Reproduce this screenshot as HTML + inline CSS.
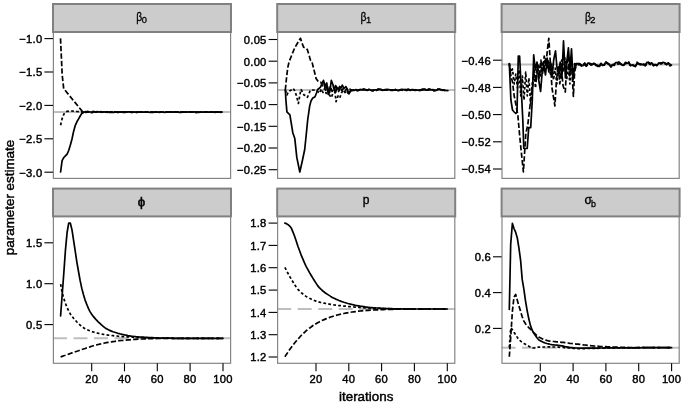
<!DOCTYPE html>
<html lang="en">
<head>
<meta charset="utf-8">
<title>parameter estimates by iteration</title>
<style>
html,body{margin:0;padding:0;background:#fff}
body{width:685px;height:404px;overflow:hidden}
svg{display:block;font-family:"Liberation Sans",sans-serif}
.s{fill:none;stroke:#000;stroke-width:1.7;stroke-linejoin:round;stroke-linecap:butt}
.c{stroke-linecap:round}
.d{stroke-dasharray:5.3 2.2}
.o{stroke-dasharray:2.8 2.2}
.r{fill:none;stroke:#bebebe;stroke-width:2}
.rd{stroke-dasharray:14 6.5}
.pb{fill:none;stroke:#858585;stroke-width:1.2}
.sb{fill:#cccccc;stroke:#808080;stroke-width:2}
.t{stroke:#000;stroke-width:1.1;fill:none}
.yl{font-size:11.2px;letter-spacing:.25px;text-anchor:end;fill:#000;stroke:#000;stroke-width:.42}
.xl{font-size:11.2px;letter-spacing:.25px;text-anchor:middle;fill:#000;stroke:#000;stroke-width:.42}
.al{font-size:13.4px;text-anchor:middle;fill:#000;stroke:#000;stroke-width:.45}
.st{fill:#000;stroke:#000}
</style>
</head>
<body>
<svg width="685" height="404" viewBox="0 0 685 404">
<g>
<path class="r" d="M53.0 112.1 L231.0 112.1"/>
<path class="s d" d="M60.5 38.4 L62.2 75.0 L63.7 88.6 L82.5 111.6 L84.1 112.0 L85.7 112.4 L87.4 111.4 L89.0 111.8 L90.7 111.7 L92.3 111.6 L93.9 111.7 L95.6 111.9 L97.2 112.0 L98.9 112.1 L100.5 112.0 L102.2 112.3 L103.8 111.8 L105.4 112.5 L107.1 111.7 L108.7 112.2 L110.4 112.0 L112.0 112.1 L113.6 111.8 L115.3 111.9 L116.9 112.3 L118.6 112.4 L120.2 112.0 L121.8 112.2 L123.5 112.3 L125.1 112.3 L126.8 111.9 L128.4 111.9 L130.0 112.0 L131.7 112.3 L133.3 111.9 L135.0 112.1 L136.6 112.3 L138.3 112.1 L139.9 112.2 L141.5 112.0 L143.2 112.2 L144.8 112.2 L146.5 111.9 L148.1 112.2 L149.7 112.3 L151.4 112.2 L153.0 112.0 L154.7 112.2 L156.3 111.9 L157.9 112.1 L159.6 112.3 L161.2 112.0 L162.9 112.0 L164.5 112.0 L166.2 111.9 L167.8 112.2 L169.4 112.0 L171.1 112.0 L172.7 112.1 L174.4 111.9 L176.0 112.1 L177.6 112.0 L179.3 112.1 L180.9 112.2 L182.6 111.9 L184.2 112.1 L185.8 112.2 L187.5 112.1 L189.1 111.9 L190.8 112.1 L192.4 112.2 L194.0 112.1 L195.7 112.3 L197.3 112.1 L199.0 112.3 L200.6 112.0 L202.3 112.0 L203.9 112.2 L205.5 112.1 L207.2 112.0 L208.8 112.3 L210.5 112.0 L212.1 112.2 L213.7 112.2 L215.4 112.3 L217.0 112.1 L218.7 112.2 L220.3 112.0 L221.9 112.0"/>
<path class="s c" d="M60.6 172.0 L62.1 160.6 L63.8 157.5 L65.4 155.9 L67.1 154.1 L68.7 150.5 L70.3 145.3 L72.0 139.0 L73.6 131.4 L75.3 125.3 L76.9 121.8 L78.6 118.9 L80.2 116.0 L81.8 113.4 L84.3 112.0 L85.9 111.5 L87.6 112.2 L89.2 112.0 L90.9 112.0 L92.5 111.9 L94.1 111.7 L95.8 112.2 L97.4 111.9 L99.1 111.8 L100.7 112.2 L102.4 112.1 L104.0 111.7 L105.6 112.1 L107.3 111.8 L108.9 112.3 L110.6 112.4 L112.2 112.1 L113.8 112.4 L115.5 111.8 L117.1 112.1 L118.8 111.8 L120.4 112.1 L122.0 111.9 L123.7 111.9 L125.3 112.1 L127.0 112.0 L128.6 111.9 L130.2 112.0 L131.9 112.0 L133.5 112.1 L135.2 112.0 L136.8 112.2 L138.5 112.1 L140.1 112.1 L141.7 112.1 L143.4 112.2 L145.0 112.1 L146.7 112.0 L148.3 112.2 L149.9 112.3 L151.6 112.1 L153.2 112.3 L154.9 112.0 L156.5 112.1 L158.1 112.1 L159.8 112.1 L161.4 112.2 L163.1 112.1 L164.7 112.3 L166.4 112.1 L168.0 111.9 L169.6 112.0 L171.3 112.2 L172.9 112.1 L174.6 111.9 L176.2 112.0 L177.8 111.9 L179.5 112.3 L181.1 112.3 L182.8 112.2 L184.4 112.1 L186.0 112.2 L187.7 112.0 L189.3 112.0 L191.0 112.1 L192.6 112.0 L194.2 111.9 L195.9 112.3 L197.5 112.1 L199.2 112.1 L200.8 112.0 L202.5 112.0 L204.1 112.1 L205.7 112.2 L207.4 112.2 L209.0 112.1 L210.7 111.9 L212.3 112.2 L213.9 112.0 L215.6 112.1 L217.2 111.9 L218.9 112.2 L220.5 112.1 L222.1 112.1"/>
<path class="s o" d="M60.6 125.2 L62.1 118.7 L63.8 114.3 L65.4 112.0 L67.1 111.4 L68.7 111.1 L70.3 111.0 L72.0 111.0 L73.6 111.2 L75.3 111.3 L76.9 111.5 L78.6 111.6 L80.2 111.8 L81.8 111.9 L84.3 112.2 L85.9 112.4 L87.6 111.8 L89.2 112.1 L90.9 112.6 L92.5 112.6 L94.1 111.7 L95.8 111.8 L97.4 111.6 L99.1 112.0 L100.7 111.6 L102.4 112.1 L104.0 112.2 L105.6 111.9 L107.3 112.3 L108.9 112.2 L110.6 111.7 L112.2 112.1 L113.8 111.9 L115.5 112.0 L117.1 112.0 L118.8 112.2 L120.4 112.1 L122.0 111.9 L123.7 112.1 L125.3 112.2 L127.0 112.0 L128.6 112.0 L130.2 112.1 L131.9 112.3 L133.5 112.3 L135.2 112.2 L136.8 112.3 L138.5 112.2 L140.1 112.1 L141.7 111.9 L143.4 112.2 L145.0 112.1 L146.7 112.0 L148.3 112.0 L149.9 112.1 L151.6 112.1 L153.2 112.0 L154.9 112.0 L156.5 112.1 L158.1 112.2 L159.8 112.1 L161.4 112.0 L163.1 112.0 L164.7 112.1 L166.4 112.0 L168.0 112.0 L169.6 112.1 L171.3 111.9 L172.9 112.1 L174.6 112.0 L176.2 112.2 L177.8 112.2 L179.5 112.2 L181.1 112.2 L182.8 112.0 L184.4 112.2 L186.0 112.0 L187.7 112.1 L189.3 112.0 L191.0 112.1 L192.6 111.9 L194.2 112.0 L195.9 112.3 L197.5 112.0 L199.2 112.2 L200.8 112.2 L202.5 112.2 L204.1 112.1 L205.7 112.1 L207.4 111.9 L209.0 111.9 L210.7 112.0 L212.3 112.0 L213.9 111.9 L215.6 112.0 L217.2 112.1 L218.9 112.0 L220.5 112.3 L222.1 112.2"/>
</g>
<rect class="pb" x="53.4" y="32.0" width="177.2" height="146.4"/>
<rect class="sb" x="53.0" y="4.0" width="178.0" height="28.0"/>
<text class="st" transform="translate(136.2 20.9) scale(0.86 1)" font-size="12.0" stroke-width="0.30">β</text>
<text class="st" transform="translate(141.8 22.8) scale(1.00 1)" font-size="9.3" stroke-width="0.30">0</text>
<path class="t" d="M44.4 38.6H53.0"/>
<text class="yl" x="42.4" y="42.9">−1.0</text>
<path class="t" d="M44.4 72.0H53.0"/>
<text class="yl" x="42.4" y="76.3">−1.5</text>
<path class="t" d="M44.4 105.4H53.0"/>
<text class="yl" x="42.4" y="109.7">−2.0</text>
<path class="t" d="M44.4 138.8H53.0"/>
<text class="yl" x="42.4" y="143.1">−2.5</text>
<path class="t" d="M44.4 172.2H53.0"/>
<text class="yl" x="42.4" y="176.5">−3.0</text>
<g>
<path class="r" d="M277.2 90.0 L455.2 90.0"/>
<path class="s d" d="M285.3 90.0 L286.5 78.0 L287.7 68.0 L289.0 62.0 L291.0 57.0 L293.0 52.0 L294.8 47.7 L297.0 44.0 L299.0 40.5 L300.5 38.3 L302.0 43.0 L303.6 47.2 L305.5 48.0 L307.3 49.5 L309.0 55.0 L310.4 60.0 L311.9 61.5 L313.0 66.0 L314.5 72.0 L316.1 78.5 L318.2 81.6 L320.8 82.2 L322.3 85.8 L323.9 83.0 L325.6 90.5 L327.2 85.0 L328.8 92.5 L330.5 86.0 L332.1 91.5 L333.7 87.0 L335.4 93.0 L337.0 88.0 L338.7 91.5 L340.3 87.5 L341.9 90.5 L343.6 88.0 L345.2 91.0 L346.9 88.5 L348.5 90.6 L350.1 89.2 L351.8 90.8 L353.4 90.2 L355.1 90.1 L356.7 90.5 L358.4 90.4 L360.0 89.4 L361.6 90.1 L363.3 89.1 L364.9 89.6 L366.6 90.3 L368.2 90.0 L369.9 89.6 L371.5 90.6 L373.1 90.8 L374.8 89.4 L376.4 90.2 L378.1 89.0 L379.7 89.4 L381.3 89.5 L383.0 90.4 L384.6 89.7 L386.3 89.9 L387.9 89.9 L389.5 90.6 L391.2 89.8 L392.8 90.1 L394.5 89.8 L396.1 89.6 L397.7 90.5 L399.4 90.0 L401.0 89.7 L402.7 90.3 L404.3 89.5 L406.0 89.9 L407.6 89.3 L409.2 90.0 L410.9 89.9 L412.5 89.8 L414.2 90.3 L415.8 89.9 L417.4 90.3 L419.1 90.3 L420.7 90.1 L422.4 89.1 L424.0 89.3 L425.6 90.3 L427.3 89.9 L428.9 89.2 L430.6 89.7 L432.2 89.8 L433.9 90.7 L435.5 90.2 L437.1 89.7 L438.8 89.2 L440.4 90.0 L442.1 89.9 L443.7 90.3 L445.3 90.3 L447.0 90.6"/>
<path class="s c" d="M285.3 90.0 L285.9 100.0 L286.9 111.9 L289.9 114.9 L292.8 132.7 L294.8 138.6 L296.8 157.4 L299.8 172.0 L302.3 161.0 L304.7 149.5 L306.2 135.0 L307.7 119.8 L309.7 105.9 L311.0 101.0 L312.5 98.3 L315.0 96.7 L316.5 93.0 L317.7 89.5 L320.3 87.4 L321.9 84.0 L323.5 80.4 L325.1 86.0 L326.8 83.0 L328.2 94.5 L329.8 92.0 L331.3 80.4 L332.9 84.5 L334.5 90.8 L335.5 85.6 L338.1 89.3 L339.7 86.5 L341.0 88.0 L342.3 85.1 L344.0 88.5 L345.9 86.6 L347.5 90.0 L349.0 93.9 L351.1 89.8 L352.7 90.2 L354.3 90.4 L356.0 89.5 L357.6 90.7 L359.3 90.2 L360.9 89.7 L362.5 89.9 L364.2 89.5 L365.8 89.7 L367.5 90.1 L369.1 89.4 L370.8 90.0 L372.4 90.3 L374.0 90.1 L375.7 89.9 L377.3 89.9 L379.0 89.3 L380.6 89.3 L382.2 90.0 L383.9 90.1 L385.5 89.8 L387.2 89.3 L388.8 89.5 L390.4 90.1 L392.1 90.0 L393.7 90.2 L395.4 89.4 L397.0 90.2 L398.6 90.7 L400.3 89.8 L401.9 89.3 L403.6 89.7 L405.2 89.6 L406.9 90.5 L408.5 89.2 L410.1 90.0 L411.8 89.5 L413.4 89.7 L415.1 90.5 L416.7 90.2 L418.3 90.2 L420.0 90.5 L421.6 90.2 L423.3 89.7 L424.9 89.0 L426.5 90.2 L428.2 90.2 L429.8 89.3 L431.5 89.9 L433.1 89.7 L434.8 90.6 L436.4 90.3 L438.0 89.2 L439.7 89.1 L441.3 89.7 L443.0 90.0 L444.6 90.4 L446.2 90.5 L447.9 90.6"/>
<path class="s o" d="M285.4 90.0 L287.0 95.0 L288.5 91.5 L290.5 90.5 L293.2 88.4 L294.8 91.0 L296.3 95.2 L298.4 103.5 L300.0 94.1 L301.0 89.5 L302.5 92.0 L304.1 95.2 L305.7 95.5 L307.3 97.3 L308.9 94.0 L310.4 90.0 L313.6 90.0 L316.6 90.5 L318.2 92.0 L319.7 93.1 L321.3 89.0 L323.0 92.5 L324.6 88.5 L326.2 93.5 L327.9 90.0 L329.5 95.0 L331.3 97.6 L333.0 93.0 L335.0 91.9 L336.0 101.7 L338.0 96.0 L339.7 98.1 L341.7 92.4 L343.4 90.0 L345.0 92.5 L346.7 90.5 L348.5 94.5 L350.2 90.5 L351.8 90.7 L353.4 90.0 L355.1 90.0 L356.7 90.0 L358.4 89.9 L360.0 89.7 L361.6 89.7 L363.3 89.4 L364.9 89.7 L366.6 90.5 L368.2 89.7 L369.9 90.0 L371.5 90.4 L373.1 90.5 L374.8 89.7 L376.4 90.5 L378.1 89.7 L379.7 89.4 L381.3 90.2 L383.0 90.3 L384.6 89.4 L386.3 89.7 L387.9 89.9 L389.5 90.5 L391.2 90.3 L392.8 90.5 L394.5 89.4 L396.1 90.2 L397.7 90.2 L399.4 89.8 L401.0 89.9 L402.7 90.3 L404.3 89.3 L406.0 90.4 L407.6 89.7 L409.2 90.1 L410.9 90.3 L412.5 89.5 L414.2 90.1 L415.8 89.7 L417.4 90.6 L419.1 90.4 L420.7 89.8 L422.4 89.8 L424.0 89.4 L425.6 90.2 L427.3 90.0 L428.9 89.1 L430.6 89.6 L432.2 89.9 L433.9 90.6 L435.5 90.2 L437.1 89.3 L438.8 89.4 L440.4 89.8 L442.1 90.4 L443.7 89.8 L445.3 90.2 L447.0 90.7"/>
</g>
<rect class="pb" x="277.6" y="32.0" width="177.2" height="146.4"/>
<rect class="sb" x="277.2" y="4.0" width="178.0" height="28.0"/>
<text class="st" transform="translate(360.5 20.9) scale(0.86 1)" font-size="12.0" stroke-width="0.30">β</text>
<text class="st" transform="translate(366.0 22.8) scale(1.00 1)" font-size="9.3" stroke-width="0.30">1</text>
<path class="t" d="M268.6 39.5H277.2"/>
<text class="yl" x="266.6" y="43.8">0.05</text>
<path class="t" d="M268.6 61.2H277.2"/>
<text class="yl" x="266.6" y="65.5">0.00</text>
<path class="t" d="M268.6 82.9H277.2"/>
<text class="yl" x="266.6" y="87.2">−0.05</text>
<path class="t" d="M268.6 104.6H277.2"/>
<text class="yl" x="266.6" y="108.9">−0.10</text>
<path class="t" d="M268.6 126.3H277.2"/>
<text class="yl" x="266.6" y="130.6">−0.15</text>
<path class="t" d="M268.6 148.0H277.2"/>
<text class="yl" x="266.6" y="152.3">−0.20</text>
<path class="t" d="M268.6 169.7H277.2"/>
<text class="yl" x="266.6" y="174.0">−0.25</text>
<g>
<path class="r" d="M501.6 64.6 L679.6 64.6"/>
<path class="s c" d="M509.3 63.5 L510.9 100.0 L512.5 110.0 L514.2 112.0 L515.8 113.5 L517.0 112.0 L518.3 56.0 L519.6 56.0 L521.8 100.0 L522.8 119.8 L523.8 148.5 L527.2 148.5 L528.7 127.7 L530.7 127.7 L532.3 100.0 L533.7 54.8 L535.3 70.0 L537.0 62.0 L538.7 80.0 L540.6 91.5 L542.2 72.0 L543.9 66.0 L545.5 75.0 L547.2 58.0 L548.8 72.0 L550.4 62.0 L552.1 77.0 L553.7 60.0 L555.5 50.8 L557.0 68.0 L558.6 74.0 L560.2 62.0 L561.9 78.0 L563.5 40.9 L565.4 78.0 L566.8 62.0 L568.4 47.8 L570.0 70.0 L571.5 48.8 L573.1 80.0 L574.7 66.0 L576.4 63.5 L578.0 63.6 L579.6 63.7 L581.3 65.1 L582.9 65.7 L584.6 63.1 L586.2 65.8 L587.8 63.1 L589.5 63.2 L591.1 65.1 L592.8 64.3 L594.4 63.4 L596.1 64.9 L597.7 66.4 L599.3 66.0 L601.0 63.3 L602.6 65.1 L604.3 64.5 L605.9 61.9 L607.5 63.4 L609.2 64.0 L610.8 66.3 L612.5 65.4 L614.1 64.3 L615.7 62.7 L617.4 62.7 L619.0 62.1 L620.7 63.8 L622.3 65.1 L623.9 64.9 L625.6 62.3 L627.2 63.2 L628.9 63.1 L630.5 65.8 L632.2 65.0 L633.8 65.4 L635.4 66.4 L637.1 63.7 L638.7 63.7 L640.4 63.8 L642.0 64.7 L643.6 64.1 L645.3 65.0 L646.9 62.4 L648.6 62.4 L650.2 63.7 L651.8 62.8 L653.5 65.8 L655.1 64.7 L656.8 65.3 L658.4 63.7 L660.0 62.9 L661.7 63.1 L663.3 62.3 L665.0 63.0 L666.6 64.7 L668.3 62.8 L669.9 64.1 L671.5 65.1"/>
<path class="s d" d="M509.3 63.5 L510.9 76.0 L512.5 82.0 L514.2 96.0 L515.8 104.0 L517.9 115.8 L519.6 135.0 L521.3 152.0 L523.4 172.0 L525.8 133.7 L527.8 124.8 L530.7 100.0 L532.7 85.8 L534.3 70.0 L536.0 82.0 L537.6 66.0 L539.2 78.0 L540.9 60.0 L542.5 74.0 L544.2 56.0 L545.8 66.0 L547.4 50.0 L548.8 38.3 L550.3 62.0 L552.0 88.0 L553.6 98.0 L554.9 106.0 L556.5 80.0 L558.2 66.0 L559.8 84.0 L561.5 70.0 L563.1 86.0 L565.3 92.0 L566.4 70.0 L568.0 56.0 L569.7 76.0 L571.3 60.0 L573.4 96.4 L574.6 72.0 L576.2 65.5 L577.9 64.9 L579.5 64.3 L581.2 66.0 L582.8 66.3 L584.5 64.3 L586.1 65.9 L587.7 64.4 L589.4 63.9 L591.0 64.7 L592.7 64.3 L594.3 62.4 L596.0 65.4 L597.6 65.1 L599.2 66.2 L600.9 63.8 L602.5 65.4 L604.2 65.1 L605.8 62.5 L607.4 63.1 L609.1 64.6 L610.7 66.8 L612.4 64.5 L614.0 64.5 L615.6 64.0 L617.3 62.7 L618.9 62.3 L620.6 63.8 L622.2 65.8 L623.8 65.1 L625.5 63.0 L627.1 64.2 L628.8 61.9 L630.4 65.9 L632.1 65.0 L633.7 65.4 L635.3 66.6 L637.0 62.2 L638.6 63.7 L640.3 64.8 L641.9 64.0 L643.5 64.7 L645.2 65.8 L646.8 64.1 L648.5 62.4 L650.1 64.6 L651.7 62.9 L653.4 65.3 L655.0 64.4 L656.7 65.5 L658.3 63.0 L659.9 63.2 L661.6 63.7 L663.2 62.4 L664.9 62.6 L666.5 64.0 L668.2 63.2 L669.8 65.9 L671.4 65.2"/>
<path class="s o" d="M509.3 63.5 L510.9 72.0 L512.5 69.0 L514.2 84.0 L515.8 74.0 L517.5 88.0 L519.1 70.0 L520.7 96.0 L522.4 76.0 L524.0 100.0 L525.7 72.0 L527.3 96.0 L528.9 78.0 L530.6 104.0 L532.2 84.0 L533.9 72.0 L535.5 88.0 L537.1 70.0 L538.8 64.0 L540.4 76.0 L542.1 62.0 L543.7 70.0 L545.3 58.0 L547.0 68.0 L548.6 60.0 L550.3 74.0 L551.9 64.0 L553.5 80.0 L555.2 68.0 L556.8 84.0 L558.5 66.0 L560.1 76.0 L561.7 60.0 L563.4 72.0 L565.0 58.0 L566.7 80.0 L568.3 66.0 L569.9 84.0 L571.6 64.0 L573.2 74.0 L574.9 62.0 L576.5 65.0 L578.1 65.2 L579.7 64.4 L581.4 64.8 L583.0 65.5 L584.7 63.2 L586.3 66.2 L587.9 64.0 L589.6 63.3 L591.2 64.0 L592.9 63.6 L594.5 64.2 L596.2 65.6 L597.8 66.5 L599.4 66.4 L601.1 64.8 L602.7 64.8 L604.4 65.2 L606.0 62.2 L607.6 63.3 L609.3 64.5 L610.9 67.1 L612.6 65.0 L614.2 65.5 L615.8 63.4 L617.5 63.8 L619.1 64.1 L620.8 63.1 L622.4 65.2 L624.0 65.5 L625.7 62.8 L627.3 63.5 L629.0 62.9 L630.6 66.1 L632.3 65.0 L633.9 65.9 L635.5 66.3 L637.2 63.1 L638.8 64.2 L640.5 64.5 L642.1 64.4 L643.7 64.5 L645.4 64.9 L647.0 62.8 L648.7 63.4 L650.3 64.1 L651.9 63.6 L653.6 65.0 L655.2 63.5 L656.9 65.4 L658.5 63.9 L660.1 63.9 L661.8 63.5 L663.4 62.7 L665.1 63.9 L666.7 64.4 L668.4 64.5 L670.0 65.9 L671.6 64.9"/>
</g>
<rect class="pb" x="502.0" y="32.0" width="177.2" height="146.4"/>
<rect class="sb" x="501.6" y="4.0" width="178.0" height="28.0"/>
<text class="st" transform="translate(584.9 20.9) scale(0.86 1)" font-size="12.0" stroke-width="0.30">β</text>
<text class="st" transform="translate(590.3 22.8) scale(1.00 1)" font-size="9.3" stroke-width="0.30">2</text>
<path class="t" d="M493.0 60.2H501.6"/>
<text class="yl" x="491.0" y="64.5">−0.46</text>
<path class="t" d="M493.0 87.4H501.6"/>
<text class="yl" x="491.0" y="91.7">−0.48</text>
<path class="t" d="M493.0 114.6H501.6"/>
<text class="yl" x="491.0" y="118.9">−0.50</text>
<path class="t" d="M493.0 141.8H501.6"/>
<text class="yl" x="491.0" y="146.1">−0.52</text>
<path class="t" d="M493.0 169.0H501.6"/>
<text class="yl" x="491.0" y="173.3">−0.54</text>
<g>
<path class="r rd" d="M53.0 338.3 L231.0 338.3"/>
<path class="s c" d="M60.6 315.9 L62.1 295.8 L63.8 273.2 L65.4 250.7 L67.1 232.5 L68.7 223.2 L70.3 223.0 L72.0 229.9 L73.6 240.4 L75.3 251.7 L76.9 262.3 L78.6 272.0 L80.2 280.9 L81.8 288.4 L83.5 294.7 L85.1 300.1 L86.8 304.5 L88.4 308.4 L90.0 311.6 L91.7 314.2 L93.3 316.4 L95.0 318.4 L96.6 320.2 L98.2 321.8 L99.9 323.4 L101.5 324.9 L103.2 326.3 L104.8 327.6 L106.4 328.7 L108.1 329.6 L109.7 330.4 L111.4 331.1 L113.0 331.8 L114.7 332.3 L116.3 332.8 L117.9 333.3 L119.6 333.7 L121.2 334.2 L122.9 334.5 L124.5 334.9 L126.1 335.2 L127.8 335.6 L129.4 335.8 L131.1 336.1 L132.7 336.3 L134.3 336.5 L136.0 336.7 L137.6 336.8 L139.3 337.0 L140.9 337.1 L142.6 337.2 L144.2 337.3 L145.8 337.4 L147.5 337.5 L149.1 337.6 L150.8 337.7 L152.4 337.7 L154.0 337.8 L155.7 337.9 L157.3 337.9 L159.0 338.0 L160.6 338.0 L162.2 338.1 L163.9 338.1 L165.5 338.1 L167.2 338.2 L168.8 338.2 L170.4 338.2 L172.1 338.2 L173.7 338.3 L175.4 338.3 L177.0 338.3 L178.7 338.3 L180.3 338.3 L181.9 338.3 L183.6 338.3 L185.2 338.3 L186.9 338.3 L188.5 338.3 L190.1 338.3 L191.8 338.3 L193.4 338.3 L195.1 338.3 L196.7 338.3 L198.3 338.3 L200.0 338.3 L201.6 338.3 L203.3 338.3 L204.9 338.3 L206.5 338.3 L208.2 338.3 L209.8 338.3 L211.5 338.3 L213.1 338.3 L214.8 338.3 L216.4 338.3 L218.0 338.3 L219.7 338.3 L221.3 338.3 L223.0 338.3"/>
<path class="s o" d="M60.6 284.1 L62.1 292.2 L63.8 298.4 L65.4 303.3 L67.1 307.5 L68.7 311.0 L70.3 313.9 L72.0 316.3 L73.6 318.3 L75.3 320.2 L76.9 322.0 L78.6 323.6 L80.2 325.2 L81.8 326.5 L83.5 327.7 L85.1 328.7 L86.8 329.5 L88.4 330.2 L90.0 330.9 L91.7 331.5 L93.3 332.0 L95.0 332.5 L96.6 332.9 L98.2 333.3 L99.9 333.7 L101.5 334.0 L103.2 334.3 L104.8 334.6 L106.4 334.9 L108.1 335.1 L109.7 335.3 L111.4 335.5 L113.0 335.7 L114.7 335.9 L116.3 336.0 L117.9 336.2 L119.6 336.3 L121.2 336.4 L122.9 336.6 L124.5 336.7 L126.1 336.8 L127.8 336.9 L129.4 336.9 L131.1 337.0 L132.7 337.1 L134.3 337.2 L136.0 337.3 L137.6 337.3 L139.3 337.4 L140.9 337.5 L142.6 337.5 L144.2 337.6 L145.8 337.7 L147.5 337.7 L149.1 337.8 L150.8 337.9 L152.4 337.9 L154.0 338.0 L155.7 338.0 L157.3 338.0 L159.0 338.1 L160.6 338.1 L162.2 338.1 L163.9 338.2 L165.5 338.2 L167.2 338.2 L168.8 338.2 L170.4 338.2 L172.1 338.3 L173.7 338.3 L175.4 338.3 L177.0 338.3 L178.7 338.3 L180.3 338.3 L181.9 338.3 L183.6 338.3 L185.2 338.3 L186.9 338.3 L188.5 338.3 L190.1 338.3 L191.8 338.3 L193.4 338.3 L195.1 338.3 L196.7 338.3 L198.3 338.3 L200.0 338.3 L201.6 338.3 L203.3 338.3 L204.9 338.3 L206.5 338.3 L208.2 338.3 L209.8 338.3 L211.5 338.3 L213.1 338.3 L214.8 338.3 L216.4 338.3 L218.0 338.3 L219.7 338.3 L221.3 338.3 L223.0 338.3"/>
<path class="s d" d="M60.6 357.0 L62.1 356.4 L63.8 355.8 L65.4 355.3 L67.1 354.7 L68.7 354.1 L70.3 353.5 L72.0 352.9 L73.6 352.4 L75.3 351.8 L76.9 351.2 L78.6 350.7 L80.2 350.1 L81.8 349.5 L83.5 349.0 L85.1 348.5 L86.8 347.9 L88.4 347.4 L90.0 346.9 L91.7 346.3 L93.3 345.8 L95.0 345.3 L96.6 344.9 L98.2 344.5 L99.9 344.1 L101.5 343.7 L103.2 343.4 L104.8 343.0 L106.4 342.7 L108.1 342.4 L109.7 342.1 L111.4 341.9 L113.0 341.6 L114.7 341.4 L116.3 341.1 L117.9 340.9 L119.6 340.7 L121.2 340.5 L122.9 340.4 L124.5 340.2 L126.1 340.1 L127.8 339.9 L129.4 339.8 L131.1 339.7 L132.7 339.5 L134.3 339.4 L136.0 339.3 L137.6 339.2 L139.3 339.1 L140.9 339.0 L142.6 339.0 L144.2 338.9 L145.8 338.8 L147.5 338.8 L149.1 338.7 L150.8 338.7 L152.4 338.6 L154.0 338.6 L155.7 338.6 L157.3 338.5 L159.0 338.5 L160.6 338.5 L162.2 338.5 L163.9 338.4 L165.5 338.4 L167.2 338.4 L168.8 338.4 L170.4 338.4 L172.1 338.3 L173.7 338.3 L175.4 338.3 L177.0 338.3 L178.7 338.3 L180.3 338.3 L181.9 338.3 L183.6 338.3 L185.2 338.3 L186.9 338.3 L188.5 338.3 L190.1 338.3 L191.8 338.3 L193.4 338.3 L195.1 338.3 L196.7 338.3 L198.3 338.3 L200.0 338.3 L201.6 338.3 L203.3 338.3 L204.9 338.3 L206.5 338.3 L208.2 338.3 L209.8 338.3 L211.5 338.3 L213.1 338.3 L214.8 338.3 L216.4 338.3 L218.0 338.3 L219.7 338.3 L221.3 338.3 L223.0 338.3"/>
</g>
<rect class="pb" x="53.4" y="216.4" width="177.2" height="146.9"/>
<rect class="sb" x="53.0" y="188.6" width="178.0" height="27.8"/>
<text class="st" transform="translate(137.7 205.5) scale(1.10 1)" font-size="12.0" stroke-width="0.50">ϕ</text>
<path class="t" d="M44.4 242.8H53.0"/>
<text class="yl" x="42.4" y="247.1">1.5</text>
<path class="t" d="M44.4 283.7H53.0"/>
<text class="yl" x="42.4" y="288.0">1.0</text>
<path class="t" d="M44.4 324.6H53.0"/>
<text class="yl" x="42.4" y="328.9">0.5</text>
<path class="t" d="M91.7 363.3V371.3"/>
<text class="xl" x="91.7" y="382.9">20</text>
<path class="t" d="M124.5 363.3V371.3"/>
<text class="xl" x="124.5" y="382.9">40</text>
<path class="t" d="M157.3 363.3V371.3"/>
<text class="xl" x="157.3" y="382.9">60</text>
<path class="t" d="M190.1 363.3V371.3"/>
<text class="xl" x="190.1" y="382.9">80</text>
<path class="t" d="M223.0 363.3V371.3"/>
<text class="xl" x="223.0" y="382.9">100</text>
<g>
<path class="r rd" d="M277.2 309.0 L455.2 309.0"/>
<path class="s c" d="M284.9 223.1 L286.4 223.6 L288.1 224.7 L289.7 226.1 L291.4 228.3 L293.0 232.1 L294.6 236.3 L296.3 241.2 L297.9 246.3 L299.6 250.8 L301.2 255.1 L302.9 259.2 L304.5 262.9 L306.1 266.3 L307.8 269.4 L309.4 272.4 L311.1 275.2 L312.7 277.9 L314.3 280.5 L316.0 283.1 L317.6 285.6 L319.3 287.6 L320.9 289.2 L322.5 290.7 L324.2 292.0 L325.8 293.3 L327.5 294.4 L329.1 295.4 L330.7 296.4 L332.4 297.4 L334.0 298.2 L335.7 299.1 L337.3 299.8 L339.0 300.5 L340.6 301.1 L342.2 301.7 L343.9 302.3 L345.5 302.8 L347.2 303.3 L348.8 303.7 L350.4 304.1 L352.1 304.5 L353.7 304.9 L355.4 305.3 L357.0 305.6 L358.6 305.9 L360.3 306.2 L361.9 306.4 L363.6 306.6 L365.2 306.9 L366.9 307.1 L368.5 307.3 L370.1 307.5 L371.8 307.6 L373.4 307.8 L375.1 307.9 L376.7 308.0 L378.3 308.1 L380.0 308.2 L381.6 308.3 L383.3 308.4 L384.9 308.5 L386.5 308.6 L388.2 308.6 L389.8 308.7 L391.5 308.7 L393.1 308.8 L394.7 308.8 L396.4 308.8 L398.0 308.9 L399.7 308.9 L401.3 308.9 L403.0 309.0 L404.6 309.0 L406.2 309.0 L407.9 309.0 L409.5 309.0 L411.2 309.0 L412.8 309.0 L414.4 309.0 L416.1 309.0 L417.7 309.0 L419.4 309.0 L421.0 309.0 L422.6 309.0 L424.3 309.0 L425.9 309.0 L427.6 309.0 L429.2 309.0 L430.8 309.0 L432.5 309.0 L434.1 309.0 L435.8 309.0 L437.4 309.0 L439.1 309.0 L440.7 309.0 L442.3 309.0 L444.0 309.0 L445.6 309.0 L447.3 309.0"/>
<path class="s o" d="M284.9 267.4 L286.4 270.4 L288.1 273.5 L289.7 276.5 L291.4 279.3 L293.0 282.0 L294.6 284.7 L296.3 287.2 L297.9 289.3 L299.6 291.0 L301.2 292.6 L302.9 294.0 L304.5 295.3 L306.1 296.4 L307.8 297.4 L309.4 298.3 L311.1 299.1 L312.7 299.9 L314.3 300.5 L316.0 301.1 L317.6 301.7 L319.3 302.1 L320.9 302.5 L322.5 302.9 L324.2 303.2 L325.8 303.5 L327.5 303.8 L329.1 304.1 L330.7 304.4 L332.4 304.6 L334.0 304.9 L335.7 305.1 L337.3 305.4 L339.0 305.6 L340.6 305.7 L342.2 305.9 L343.9 306.1 L345.5 306.2 L347.2 306.4 L348.8 306.6 L350.4 306.7 L352.1 306.8 L353.7 307.0 L355.4 307.1 L357.0 307.2 L358.6 307.3 L360.3 307.4 L361.9 307.5 L363.6 307.7 L365.2 307.8 L366.9 307.9 L368.5 308.0 L370.1 308.1 L371.8 308.1 L373.4 308.2 L375.1 308.3 L376.7 308.4 L378.3 308.4 L380.0 308.5 L381.6 308.5 L383.3 308.6 L384.9 308.6 L386.5 308.7 L388.2 308.7 L389.8 308.8 L391.5 308.8 L393.1 308.8 L394.7 308.8 L396.4 308.9 L398.0 308.9 L399.7 308.9 L401.3 308.9 L403.0 308.9 L404.6 308.9 L406.2 308.9 L407.9 308.9 L409.5 308.9 L411.2 308.9 L412.8 308.9 L414.4 309.0 L416.1 309.0 L417.7 309.0 L419.4 309.0 L421.0 309.0 L422.6 309.0 L424.3 309.0 L425.9 309.0 L427.6 309.0 L429.2 309.0 L430.8 309.0 L432.5 309.0 L434.1 309.0 L435.8 309.0 L437.4 309.0 L439.1 309.0 L440.7 309.0 L442.3 309.0 L444.0 309.0 L445.6 309.0 L447.3 309.0"/>
<path class="s d" d="M284.9 356.8 L286.4 354.4 L288.1 351.9 L289.7 349.6 L291.4 347.3 L293.0 345.1 L294.6 343.0 L296.3 341.0 L297.9 339.1 L299.6 337.3 L301.2 335.5 L302.9 333.9 L304.5 332.3 L306.1 330.8 L307.8 329.5 L309.4 328.2 L311.1 327.0 L312.7 325.8 L314.3 324.8 L316.0 323.7 L317.6 322.8 L319.3 321.9 L320.9 321.1 L322.5 320.3 L324.2 319.6 L325.8 318.9 L327.5 318.2 L329.1 317.6 L330.7 317.0 L332.4 316.5 L334.0 316.0 L335.7 315.5 L337.3 315.0 L339.0 314.6 L340.6 314.2 L342.2 313.9 L343.9 313.5 L345.5 313.2 L347.2 312.9 L348.8 312.6 L350.4 312.3 L352.1 312.0 L353.7 311.8 L355.4 311.6 L357.0 311.4 L358.6 311.2 L360.3 311.0 L361.9 310.8 L363.6 310.7 L365.2 310.6 L366.9 310.4 L368.5 310.3 L370.1 310.2 L371.8 310.1 L373.4 310.0 L375.1 309.9 L376.7 309.8 L378.3 309.8 L380.0 309.7 L381.6 309.6 L383.3 309.6 L384.9 309.5 L386.5 309.5 L388.2 309.4 L389.8 309.4 L391.5 309.3 L393.1 309.3 L394.7 309.3 L396.4 309.2 L398.0 309.2 L399.7 309.2 L401.3 309.2 L403.0 309.2 L404.6 309.2 L406.2 309.2 L407.9 309.1 L409.5 309.1 L411.2 309.1 L412.8 309.1 L414.4 309.1 L416.1 309.1 L417.7 309.1 L419.4 309.1 L421.0 309.1 L422.6 309.1 L424.3 309.0 L425.9 309.0 L427.6 309.0 L429.2 309.0 L430.8 309.0 L432.5 309.0 L434.1 309.0 L435.8 309.0 L437.4 309.0 L439.1 309.0 L440.7 309.0 L442.3 309.0 L444.0 309.0 L445.6 309.0 L447.3 309.0"/>
</g>
<rect class="pb" x="277.6" y="216.4" width="177.2" height="146.9"/>
<rect class="sb" x="277.2" y="188.6" width="178.0" height="27.8"/>
<text class="st" transform="translate(362.7 204.2) scale(1.00 1)" font-size="12.0" stroke-width="0.35">p</text>
<path class="t" d="M268.6 223.1H277.2"/>
<text class="yl" x="266.6" y="227.4">1.8</text>
<path class="t" d="M268.6 245.4H277.2"/>
<text class="yl" x="266.6" y="249.7">1.7</text>
<path class="t" d="M268.6 267.7H277.2"/>
<text class="yl" x="266.6" y="272.0">1.6</text>
<path class="t" d="M268.6 290.1H277.2"/>
<text class="yl" x="266.6" y="294.4">1.5</text>
<path class="t" d="M268.6 312.4H277.2"/>
<text class="yl" x="266.6" y="316.7">1.4</text>
<path class="t" d="M268.6 334.7H277.2"/>
<text class="yl" x="266.6" y="339.0">1.3</text>
<path class="t" d="M268.6 357.0H277.2"/>
<text class="yl" x="266.6" y="361.3">1.2</text>
<path class="t" d="M316.0 363.3V371.3"/>
<text class="xl" x="316.0" y="382.9">20</text>
<path class="t" d="M348.8 363.3V371.3"/>
<text class="xl" x="348.8" y="382.9">40</text>
<path class="t" d="M381.6 363.3V371.3"/>
<text class="xl" x="381.6" y="382.9">60</text>
<path class="t" d="M414.4 363.3V371.3"/>
<text class="xl" x="414.4" y="382.9">80</text>
<path class="t" d="M447.3 363.3V371.3"/>
<text class="xl" x="447.3" y="382.9">100</text>
<g>
<path class="r rd" d="M501.6 347.7 L679.6 347.7"/>
<path class="s c" d="M509.3 309.4 L510.7 244.1 L512.4 223.4 L514.0 228.5 L515.7 232.4 L517.3 237.9 L518.9 247.8 L520.6 260.3 L522.2 279.4 L523.9 289.4 L525.5 300.8 L527.2 310.8 L528.8 318.8 L530.4 325.4 L532.1 330.0 L533.7 333.1 L535.4 335.5 L537.0 337.8 L538.6 339.7 L540.3 340.7 L541.9 341.6 L543.6 342.4 L545.2 343.0 L546.8 343.5 L548.5 343.9 L550.1 344.3 L551.8 344.6 L553.4 344.8 L555.0 345.0 L556.7 345.2 L558.3 345.4 L560.0 345.6 L561.6 345.8 L563.3 346.1 L564.9 346.5 L566.5 346.8 L568.2 347.1 L569.8 347.5 L571.5 347.7 L573.1 347.9 L574.7 348.0 L576.4 348.0 L578.0 348.1 L579.7 348.1 L581.3 348.1 L582.9 348.2 L584.6 348.2 L586.2 348.2 L587.9 348.2 L589.5 348.2 L591.1 348.2 L592.8 348.2 L594.4 348.2 L596.1 348.1 L597.7 348.1 L599.4 348.1 L601.0 348.0 L602.6 348.0 L604.3 348.0 L605.9 347.9 L607.6 347.9 L609.2 347.9 L610.8 347.9 L612.5 347.9 L614.1 347.9 L615.8 347.9 L617.4 347.9 L619.0 347.8 L620.7 347.8 L622.3 347.8 L624.0 347.8 L625.6 347.8 L627.3 347.8 L628.9 347.8 L630.5 347.8 L632.2 347.8 L633.8 347.8 L635.5 347.8 L637.1 347.8 L638.7 347.8 L640.4 347.8 L642.0 347.7 L643.7 347.7 L645.3 347.7 L646.9 347.7 L648.6 347.7 L650.2 347.7 L651.9 347.7 L653.5 347.7 L655.1 347.7 L656.8 347.7 L658.4 347.7 L660.1 347.7 L661.7 347.7 L663.4 347.7 L665.0 347.7 L666.6 347.7 L668.3 347.7 L669.9 347.7 L671.6 347.7"/>
<path class="s d" d="M509.3 356.8 L510.7 337.3 L512.4 311.2 L514.0 297.0 L515.7 294.5 L517.3 300.2 L518.9 305.8 L520.6 311.4 L522.2 316.8 L523.9 321.1 L525.5 323.8 L527.2 325.9 L528.8 327.6 L530.4 329.2 L532.1 330.8 L533.7 332.5 L535.4 334.2 L537.0 335.7 L538.6 336.9 L540.3 337.8 L541.9 338.6 L543.6 339.3 L545.2 339.9 L546.8 340.4 L548.5 340.8 L550.1 341.1 L551.8 341.3 L553.4 341.5 L555.0 341.6 L556.7 341.8 L558.3 341.9 L560.0 342.1 L561.6 342.3 L563.3 342.4 L564.9 342.6 L566.5 342.8 L568.2 343.0 L569.8 343.3 L571.5 343.5 L573.1 343.7 L574.7 343.9 L576.4 344.1 L578.0 344.2 L579.7 344.4 L581.3 344.6 L582.9 344.8 L584.6 345.0 L586.2 345.1 L587.9 345.3 L589.5 345.5 L591.1 345.7 L592.8 345.8 L594.4 346.0 L596.1 346.1 L597.7 346.2 L599.4 346.4 L601.0 346.5 L602.6 346.6 L604.3 346.7 L605.9 346.7 L607.6 346.8 L609.2 346.9 L610.8 347.0 L612.5 347.1 L614.1 347.1 L615.8 347.2 L617.4 347.2 L619.0 347.3 L620.7 347.3 L622.3 347.4 L624.0 347.4 L625.6 347.4 L627.3 347.4 L628.9 347.5 L630.5 347.5 L632.2 347.5 L633.8 347.5 L635.5 347.6 L637.1 347.6 L638.7 347.6 L640.4 347.6 L642.0 347.6 L643.7 347.6 L645.3 347.6 L646.9 347.6 L648.6 347.6 L650.2 347.7 L651.9 347.7 L653.5 347.7 L655.1 347.7 L656.8 347.7 L658.4 347.7 L660.1 347.7 L661.7 347.7 L663.4 347.7 L665.0 347.7 L666.6 347.7 L668.3 347.7 L669.9 347.7 L671.6 347.7"/>
<path class="s o" d="M509.3 347.5 L510.7 327.9 L512.4 329.6 L514.0 332.2 L515.7 334.8 L517.3 337.4 L518.9 339.5 L520.6 341.1 L522.2 342.3 L523.9 343.4 L525.5 344.3 L527.2 345.2 L528.8 346.2 L530.4 347.1 L532.1 347.8 L533.7 348.0 L535.4 347.8 L537.0 347.5 L538.6 347.2 L540.3 347.1 L541.9 347.1 L543.6 347.0 L545.2 347.0 L546.8 346.9 L548.5 346.9 L550.1 346.9 L551.8 346.9 L553.4 347.0 L555.0 347.0 L556.7 347.1 L558.3 347.2 L560.0 347.3 L561.6 347.4 L563.3 347.5 L564.9 347.6 L566.5 347.8 L568.2 347.9 L569.8 348.0 L571.5 348.2 L573.1 348.3 L574.7 348.4 L576.4 348.5 L578.0 348.6 L579.7 348.6 L581.3 348.6 L582.9 348.6 L584.6 348.6 L586.2 348.5 L587.9 348.5 L589.5 348.5 L591.1 348.4 L592.8 348.4 L594.4 348.3 L596.1 348.3 L597.7 348.3 L599.4 348.2 L601.0 348.2 L602.6 348.1 L604.3 348.1 L605.9 348.1 L607.6 348.0 L609.2 348.0 L610.8 347.9 L612.5 347.9 L614.1 347.9 L615.8 347.8 L617.4 347.8 L619.0 347.8 L620.7 347.8 L622.3 347.8 L624.0 347.8 L625.6 347.8 L627.3 347.8 L628.9 347.8 L630.5 347.8 L632.2 347.8 L633.8 347.8 L635.5 347.7 L637.1 347.7 L638.7 347.7 L640.4 347.7 L642.0 347.7 L643.7 347.7 L645.3 347.7 L646.9 347.7 L648.6 347.7 L650.2 347.7 L651.9 347.7 L653.5 347.7 L655.1 347.7 L656.8 347.7 L658.4 347.7 L660.1 347.7 L661.7 347.7 L663.4 347.7 L665.0 347.7 L666.6 347.7 L668.3 347.7 L669.9 347.7 L671.6 347.7"/>
</g>
<rect class="pb" x="502.0" y="216.4" width="177.2" height="146.9"/>
<rect class="sb" x="501.6" y="188.6" width="178.0" height="27.8"/>
<text class="st" transform="translate(584.4 204.4) scale(1.00 1)" font-size="12.0" stroke-width="0.35">σ</text>
<text class="st" transform="translate(591.1 206.6) scale(1.00 1)" font-size="8.9" stroke-width="0.30">b</text>
<path class="t" d="M493.0 256.8H501.6"/>
<text class="yl" x="491.0" y="261.1">0.6</text>
<path class="t" d="M493.0 292.6H501.6"/>
<text class="yl" x="491.0" y="296.9">0.4</text>
<path class="t" d="M493.0 328.4H501.6"/>
<text class="yl" x="491.0" y="332.7">0.2</text>
<path class="t" d="M540.3 363.3V371.3"/>
<text class="xl" x="540.3" y="382.9">20</text>
<path class="t" d="M573.1 363.3V371.3"/>
<text class="xl" x="573.1" y="382.9">40</text>
<path class="t" d="M605.9 363.3V371.3"/>
<text class="xl" x="605.9" y="382.9">60</text>
<path class="t" d="M638.7 363.3V371.3"/>
<text class="xl" x="638.7" y="382.9">80</text>
<path class="t" d="M671.6 363.3V371.3"/>
<text class="xl" x="671.6" y="382.9">100</text>
<text class="al" x="366.2" y="400.9">iterations</text>
<text class="al" transform="translate(14.4 197.5) rotate(-90)">parameter estimate</text>
</svg>
</body>
</html>
